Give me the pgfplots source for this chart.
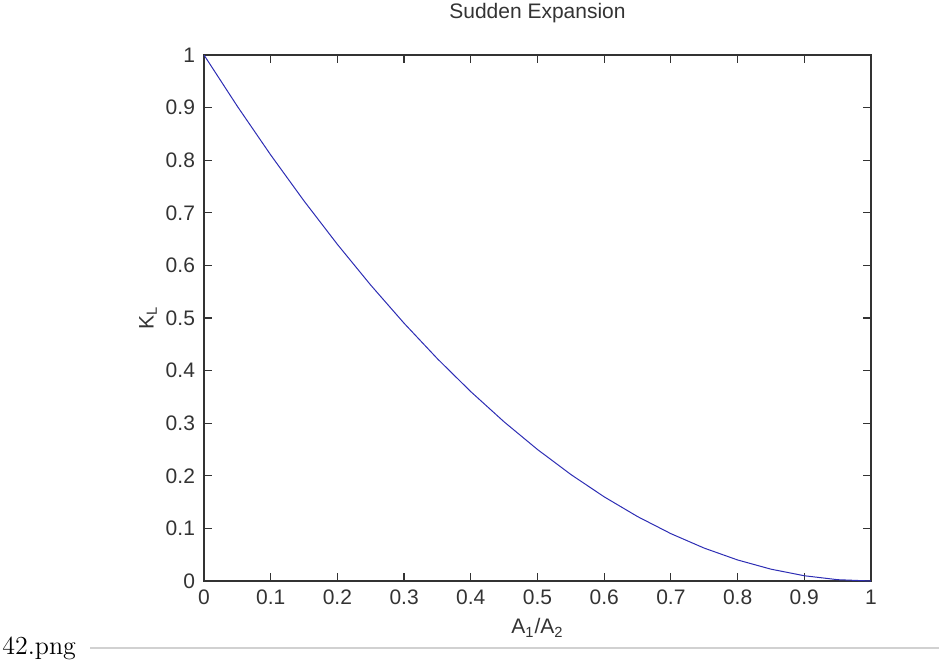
\documentclass[border=0pt]{standalone}
\usepackage{pgfplots}
\pgfplotsset{compat=1.18}
\usepackage{fontspec}
\newfontfamily\arial{Liberation Sans}
\definecolor{matblue}{RGB}{45,45,180}
\begin{document}
\begin{tikzpicture}[x=0.5pt,y=0.5pt]
\useasboundingbox (0,0) rectangle (939,661);
\begin{axis}[
  at={(102pt,40pt)}, anchor=south west,
  scale only axis, width=333.5pt, height=263pt,
  xmin=0, xmax=1, ymin=0, ymax=1,
  xtick={0,0.1,...,1}, ytick={0,0.1,...,1},
  tick align=inside, major tick length=4pt,
  tick style={black!80, line width=0.6pt},
  axis line style={black!80, line width=0.6pt},
  /pgf/number format/assume math mode=true,
  ticklabel style={font=\arial\fontsize{10.5}{12}\selectfont, text=black!80},
  yticklabel style={xshift=-1pt},
  xticklabel style={yshift=-1pt},
]
\addplot[matblue, line width=0.5pt] coordinates {
(0,1) (0.05,0.9025) (0.1,0.81) (0.15,0.7225) (0.2,0.64) (0.25,0.5625)
(0.3,0.49) (0.35,0.4225) (0.4,0.36) (0.45,0.3025) (0.5,0.25) (0.55,0.2025)
(0.6,0.16) (0.65,0.1225) (0.7,0.09) (0.75,0.0625) (0.8,0.04) (0.85,0.0225)
(0.9,0.01) (0.95,0.0025) (1,0)
};
\end{axis}
\node[anchor=base, inner sep=0pt, text=black!80, font=\arial\fontsize{10.5}{12}\selectfont] at (537.5,643) {Sudden Expansion};
\node[anchor=center, inner sep=0pt, text=black!80, font=\arial\fontsize{10.5}{12}\selectfont] at (537.5,33) {A\textsubscript{1}/A\textsubscript{2}};
\node[anchor=center, inner sep=0pt, rotate=90, text=black!80, font=\arial\fontsize{10.5}{12}\selectfont] at (148,343) {K\textsubscript{L}};
\node[anchor=base west, inner sep=0pt, font=\fontsize{13}{15}\selectfont] at (2,7) {42.png};
\draw[black!18, line width=0.6pt] (90,13) -- (939,13);
\end{tikzpicture}
\end{document}
